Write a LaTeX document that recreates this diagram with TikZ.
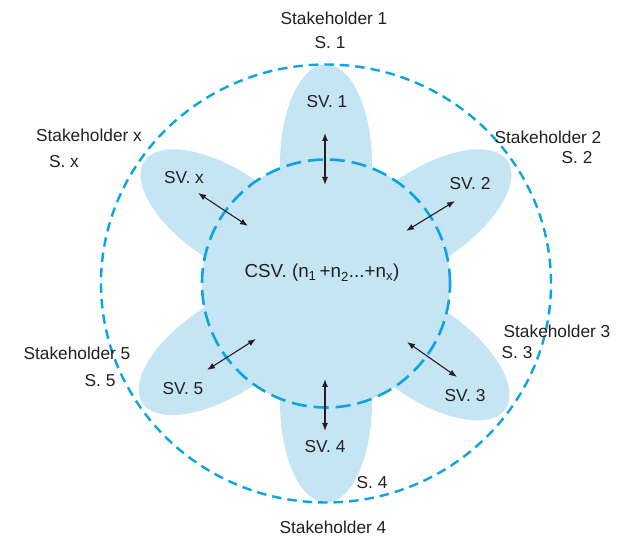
\documentclass[tikz,border=0pt]{standalone}
\usepackage{fontspec}
\setmainfont{Liberation Sans}
\usetikzlibrary{arrows.meta,calc}
\definecolor{dashblue}{RGB}{10,164,226}
\definecolor{petalblue}{RGB}{197,229,245}
\definecolor{txt}{RGB}{35,31,32}
\tikzset{
  petal/.style={fill=petalblue},
  lbl/.style={inner sep=0pt,text=txt,font=\fontsize{17.3}{20}\selectfont},
  twoway/.style={draw=txt,line width=1.1pt,{Latex[length=8pt,width=6pt]}-{Latex[length=8pt,width=6pt]}},
}
\begin{document}
\begin{tikzpicture}[x=1pt,y=1pt]
\useasboundingbox (0,0) rectangle (617,537);
\coordinate (C) at (326,253.5);
% petals
\foreach \a in {90,34,-35,-90,-147,146}{
  \fill[petal,shift={(C)},rotate=\a] (119,0) ellipse [x radius=100,y radius=46];
}
% inner circle
\fill[petalblue] (C) circle [radius=124];
\draw[dashblue,line width=2.6pt,dash pattern=on 15pt off 7pt] (C) circle [radius=124];
% outer circle
\draw[dashblue,line width=2.4pt,dash pattern=on 9.5pt off 6pt] (C) ellipse [x radius=225,y radius=219];
% labels
\node[lbl] (st1) at (334,519) {Stakeholder 1};
\node[lbl] (s1) at (330,494) {S. 1};
\node[lbl] (sv1) at (327,435) {SV. 1};
\node[lbl] (stx) at (89,402) {Stakeholder x};
\node[lbl] (sx) at (64,375) {S. x};
\node[lbl] (svx) at (184,359) {SV. x};
\node[lbl] (st2) at (548,400) {Stakeholder 2};
\node[lbl] (s2) at (577,379) {S. 2};
\node[lbl] (sv2) at (470,353) {SV. 2};
\node[lbl] (st5) at (77,184) {Stakeholder 5};
\node[lbl] (s5) at (100,156) {S. 5};
\node[lbl] (sv5) at (183,148) {SV. 5};
\node[lbl] (st3) at (557,206) {Stakeholder 3};
\node[lbl] (s3) at (517,184) {S. 3};
\node[lbl] (sv3) at (465,141) {SV. 3};
\node[lbl] (sv4) at (325,90) {SV. 4};
\node[lbl] (s4) at (372,54) {S. 4};
\node[lbl] (st4) at (333,10) {Stakeholder 4};
\node[lbl,font=\fontsize{18.8}{22}\selectfont] (csv) at (322,264) {CSV.\ (n\textsubscript{1}\,+n\textsubscript{2}...+n\textsubscript{x})};
% arrows
\coordinate (a1o) at (325,404); \coordinate (a1i) at (325,352);
\coordinate (axo) at (198,344); \coordinate (axi) at (248,311);
\coordinate (a2o) at (455,336); \coordinate (a2i) at (406,306);
\coordinate (a5i) at (256,198); \coordinate (a5o) at (207,167);
\coordinate (a3i) at (407,195); \coordinate (a3o) at (457,160);
\coordinate (a4i) at (325,158); \coordinate (a4o) at (325,106);
\draw[twoway] (a1o) -- (a1i);
\draw[twoway] (axo) -- (axi);
\draw[twoway] (a2o) -- (a2i);
\draw[twoway] (a5i) -- (a5o);
\draw[twoway] (a3i) -- (a3o);
\draw[twoway] (a4i) -- (a4o);
\end{tikzpicture}
\end{document}
